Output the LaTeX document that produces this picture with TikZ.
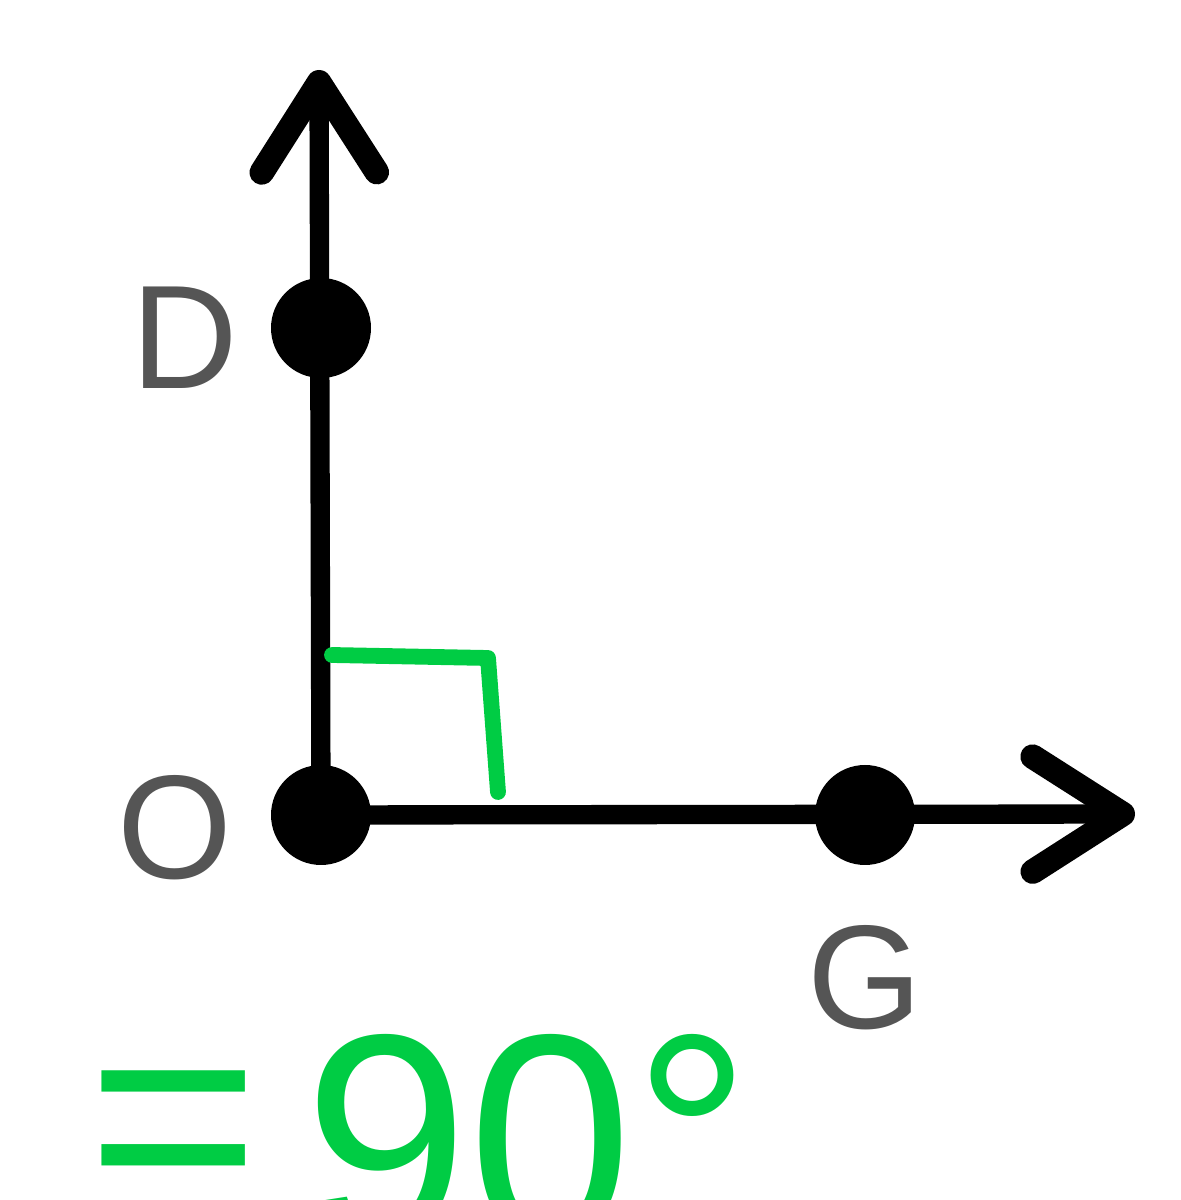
\documentclass[tikz,border=0pt]{standalone}
\usepackage{fontspec}
\setmainfont{Liberation Sans}
\usetikzlibrary{arrows.meta}
\definecolor{markgreen}{RGB}{0,204,68}
\definecolor{labelgray}{RGB}{85,85,85}

\begin{document}
\begin{tikzpicture}[ray/.style={line width=5.5pt, -{Straight Barb[length=0.9cm, width=1.15cm, line width=7pt, line cap=round, line join=round]}},
  pt/.style={circle, fill=black, inner sep=0pt, minimum size=1cm},
  lbl/.style={text=labelgray, font=\fontsize{42}{42}\selectfont}]

        % frame of the picture, as in the reference
        \useasboundingbox (0,0) rectangle (11.81,12);

        % the three points and the free ends of the rays
        \node[pt] (O) at (3.21,3.85) {};
        \node[pt] (D) at (3.21,8.72) {};
        \node[pt] (G) at (8.65,3.85) {};
        \coordinate (Dtip) at (3.19,11.30);
        \coordinate (Gtip) at (11.35,3.86);

        % the two rays
        \draw[ray] (O.center) -- (Dtip);
        \draw[ray] (O.center) -- (Gtip);

        % labels
        \node[lbl] (Dlabel) at (1.85,8.62) {D};
        \node[lbl] (Olabel) at (1.75,3.72) {O};
        \node[lbl] (Glabel) at (8.65,2.22) {G};

        % right angle mark
        \draw[markgreen, line width=4.5pt, line cap=round, line join=round] (3.32,5.45) -- (4.88,5.42) -- (4.98,4.08);

        % the handwritten measure, cut by the lower edge
        \node[text=markgreen, anchor=base west, font=\fontsize{84}{84}\selectfont] (measure) at (0.75,-0.40) {\raisebox{0.25cm}{=}\hspace{0.45cm}90°};

\end{tikzpicture}
\end{document}
